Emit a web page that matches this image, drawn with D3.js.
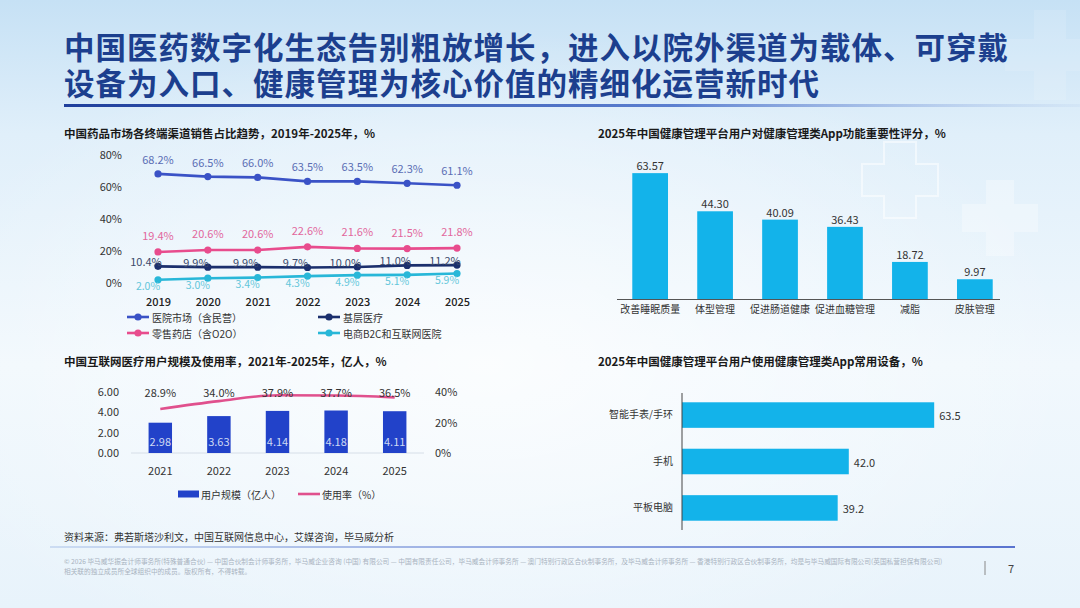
<!DOCTYPE html>
<html><head><meta charset="utf-8">
<script src="https://cdn.jsdelivr.net/npm/d3@7"></script>
<style>
html,body{margin:0;padding:0;background:#e6f2fb;}
svg{display:block;font-family:"Noto Sans CJK SC","Noto Sans",sans-serif;}
</style></head>
<body>
<svg id="c" width="1080" height="608"></svg>
<script>
// ---------- DATA ----------
const titleLines = ["中国医药数字化生态告别粗放增长，进入以院外渠道为载体、可穿戴", "设备为入口、健康管理为核心价值的精细化运营新时代"];

const c1Title = "中国药品市场各终端渠道销售占比趋势，2019年-2025年，%";
const c1Years = ["2019","2020","2021","2022","2023","2024","2025"];
const c1Hospital = [68.2,66.5,66.0,63.5,63.5,62.3,61.1];
const c1Retail = [19.4,20.6,20.6,22.6,21.6,21.5,21.8];
const c1Primary = [10.4,9.9,9.9,9.7,10.0,11.0,11.2];
const c1Ecom = [2.0,3.0,3.4,4.3,4.9,5.1,5.9];
const c1Ticks = [0,20,40,60,80];
const c1Names = ["医院市场（含民营）","基层医疗","零售药店（含O2O）","电商B2C和互联网医院"];

const c2Title = "中国互联网医疗用户规模及使用率，2021年-2025年，亿人，%";
const c2Years = ["2021","2022","2023","2024","2025"];
const c2Users = [2.98,3.63,4.14,4.18,4.11];
const c2Rate = [28.9,34.0,37.9,37.7,36.5];
const c2LeftTicks = [0,2,4,6];
const c2RightTicks = [0,20,40];
const c2Names = ["用户规模（亿人）","使用率（%）"];

const c3Title = "2025年中国健康管理平台用户对健康管理类App功能重要性评分，%";
const c3Cats = ["改善睡眠质量","体型管理","促进肠道健康","促进血糖管理","减脂","皮肤管理"];
const c3Vals = [63.57,44.30,40.09,36.43,18.72,9.97];

const c4Title = "2025年中国健康管理平台用户使用健康管理类App常用设备，%";
const c4Cats = ["智能手表/手环","手机","平板电脑"];
const c4Vals = [63.5,42.0,39.2];

const sourceText = "资料来源：弗若斯塔沙利文，中国互联网信息中心，艾媒咨询，毕马威分析";
const footer1 = "© 2026 毕马威华振会计师事务所(特殊普通合伙) — 中国合伙制会计师事务所，毕马威企业咨询 (中国) 有限公司 — 中国有限责任公司，毕马威会计师事务所 — 澳门特别行政区合伙制事务所，及毕马威会计师事务所 — 香港特别行政区合伙制事务所，均是与毕马威国际有限公司(英国私营担保有限公司)";
const footer2 = "相关联的独立成员所全球组织中的成员。版权所有，不得转载。";
const pageNum = "7";

// ---------- SETUP ----------
const svg = d3.select("#c");
const defs = svg.append("defs");
const bg = defs.append("linearGradient").attr("id","bg").attr("x1",0).attr("y1",0).attr("x2",0).attr("y2",1);
bg.append("stop").attr("offset","0%").attr("stop-color","#c6e1f5");
bg.append("stop").attr("offset","22%").attr("stop-color","#e0effa");
bg.append("stop").attr("offset","60%").attr("stop-color","#f1f8fd");
bg.append("stop").attr("offset","100%").attr("stop-color","#e8f3fb");
const rg = defs.append("radialGradient").attr("id","glow").attr("cx","45%").attr("cy","60%").attr("r","55%");
rg.append("stop").attr("offset","0%").attr("stop-color","#ffffff").attr("stop-opacity",0.7);
rg.append("stop").attr("offset","100%").attr("stop-color","#ffffff").attr("stop-opacity",0);
const ul = defs.append("linearGradient").attr("id","ul").attr("x1",0).attr("x2",1);
ul.append("stop").attr("offset","0%").attr("stop-color","#1f3f9c");
ul.append("stop").attr("offset","60%").attr("stop-color","#5b7fd0");
ul.append("stop").attr("offset","100%").attr("stop-color","#c8dcf2").attr("stop-opacity",0.4);
const fl = defs.append("linearGradient").attr("id","fl").attr("x1",0).attr("x2",1);
fl.append("stop").attr("offset","0%").attr("stop-color","#c4d6f0");
fl.append("stop").attr("offset","100%").attr("stop-color","#3553c4");

svg.append("rect").attr("width",1080).attr("height",608).attr("fill","url(#bg)");
svg.append("rect").attr("width",1080).attr("height",608).attr("fill","url(#glow)");

// decorative crosses
function crossPath(cx, cy, a, b){
  return `M${cx-a},${cy-b}H${cx+a}V${cy-a}H${cx+b}V${cy+a}H${cx+a}V${cy+b}H${cx-a}V${cy+a}H${cx-b}V${cy-a}H${cx-a}Z`;
}
svg.append("path").attr("d",crossPath(900,180,16,38)).attr("fill","none").attr("stroke","#ffffff").attr("stroke-opacity",0.5).attr("stroke-width",2);
svg.append("path").attr("d",crossPath(1000,218,14,38)).attr("fill","#ffffff").attr("fill-opacity",0.3);
svg.append("path").attr("d",crossPath(1050,55,16,45)).attr("fill","#ffffff").attr("fill-opacity",0.12);

// ---------- TITLE ----------
const tt = svg.append("text").attr("x",64).attr("y",59)
  .attr("font-size",30.5).attr("font-weight",700).attr("fill","#1c3f8e").attr("letter-spacing",1);
tt.selectAll("tspan").data(titleLines).join("tspan")
  .attr("x",64).attr("dy",(d,i)=>i===0?0:36).text(d=>d);
svg.append("rect").attr("x",64).attr("y",104).attr("width",1016).attr("height",3).attr("fill","url(#ul)");

const txt = (x,y,s,opts={}) => svg.append("text").attr("x",x).attr("y",y)
  .attr("font-size",opts.size||11).attr("font-weight",opts.weight||400)
  .attr("fill",opts.fill||"#333").attr("text-anchor",opts.anchor||"start")
  .attr("dominant-baseline","central").text(s);

// ---------- CHART 1 ----------
txt(64,133,c1Title,{size:11.5,weight:700,fill:"#1a1a1a"});
const x1 = d3.scalePoint().domain(c1Years).range([158,457]);
const y1 = d3.scaleLinear().domain([0,80]).range([283,155]);
const g1 = svg.append("g");
g1.append("g").attr("transform","translate(122,0)")
  .call(d3.axisLeft(y1).tickValues(c1Ticks).tickFormat(d=>d+"%").tickSize(0).tickPadding(0))
  .call(g=>g.select(".domain").remove())
  .call(g=>g.selectAll("text").attr("font-size",11).attr("fill","#333").attr("font-family","Noto Sans CJK SC"));
g1.append("g").attr("transform","translate(0,302)")
  .call(d3.axisBottom(x1).tickSize(0).tickPadding(0))
  .call(g=>g.select(".domain").remove())
  .call(g=>g.selectAll("text").attr("font-size",11).attr("fill","#222").attr("font-weight",500).attr("font-family","Noto Sans CJK SC").attr("dy","0.35em"));

const series1 = [
  {name:c1Names[0], vals:c1Hospital, color:"#3a52c6", lab:"#5a6db4", dx:0, dy:-15},
  {name:c1Names[1], vals:c1Primary, color:"#1b2f6d", lab:"#3b4a6b", dx:-12, dy:-5},
  {name:c1Names[2], vals:c1Retail, color:"#e84c8d", lab:"#e2679c", dx:0, dy:-17},
  {name:c1Names[3], vals:c1Ecom, color:"#28b7d8", lab:"#63c6da", dx:-10, dy:6}
];
const line1 = d3.line().x((d,i)=>x1(c1Years[i])).y(d=>y1(d));
[3,1,2,0].forEach(k=>{
  const s = series1[k];
  g1.append("path").attr("d",line1(s.vals)).attr("fill","none").attr("stroke",s.color).attr("stroke-width",2.6);
  g1.selectAll(null).data(s.vals).join("circle")
    .attr("cx",(d,i)=>x1(c1Years[i])).attr("cy",d=>y1(d)).attr("r",3.6).attr("fill",s.color);
  g1.selectAll(null).data(s.vals).join("text")
    .attr("x",(d,i)=>x1(c1Years[i])+s.dx).attr("y",d=>y1(d)+s.dy)
    .attr("text-anchor","middle").attr("dominant-baseline","central")
    .attr("font-size",k===3?10.5:11).attr("fill",s.lab).text(d=>d.toFixed(1)+"%");
});
const leg1Pos = [[127,317],[318,317],[127,333],[318,333]];
series1.forEach((s,k)=>{
  const [lx,ly] = leg1Pos[k];
  g1.append("line").attr("x1",lx).attr("x2",lx+22).attr("y1",ly).attr("y2",ly).attr("stroke",s.color).attr("stroke-width",2.6);
  g1.append("circle").attr("cx",lx+11).attr("cy",ly).attr("r",3.6).attr("fill",s.color);
  txt(lx+25,ly,s.name,{size:10,fill:"#333"});
});

// ---------- CHART 2 ----------
txt(64,361,c2Title,{size:11.5,weight:700,fill:"#1a1a1a"});
const x2 = d3.scaleBand().domain(c2Years).range([131,424]).paddingInner(0.6).paddingOuter(0.3);
const y2L = d3.scaleLinear().domain([0,6]).range([453,392]);
const y2R = d3.scaleLinear().domain([0,40]).range([453,392]);
const g2 = svg.append("g");
g2.append("line").attr("x1",x2.range()[0]).attr("x2",x2.range()[1]).attr("y1",y2L(0)).attr("y2",y2L(0)).attr("stroke","#d6dee8").attr("stroke-width",1);
g2.append("g").attr("transform","translate(119,0)")
  .call(d3.axisLeft(y2L).tickValues(c2LeftTicks).tickFormat(d3.format(".2f")).tickSize(0).tickPadding(0))
  .call(g=>g.select(".domain").remove())
  .call(g=>g.selectAll("text").attr("font-size",11).attr("fill","#333").attr("font-family","Noto Sans CJK SC"));
g2.append("g").attr("transform","translate(435,0)")
  .call(d3.axisRight(y2R).tickValues(c2RightTicks).tickFormat(d=>d+"%").tickSize(0).tickPadding(0))
  .call(g=>g.select(".domain").remove())
  .call(g=>g.selectAll("text").attr("font-size",11).attr("fill","#333").attr("font-family","Noto Sans CJK SC"));
g2.append("g").attr("transform","translate(0,471)")
  .call(d3.axisBottom(x2).tickSize(0).tickPadding(0))
  .call(g=>g.select(".domain").remove())
  .call(g=>g.selectAll("text").attr("font-size",11).attr("fill","#333").attr("font-family","Noto Sans CJK SC").attr("dy","0.35em"));
g2.selectAll("rect.bar").data(c2Users).join("rect").attr("class","bar")
  .attr("x",(d,i)=>x2(c2Years[i])).attr("width",x2.bandwidth())
  .attr("y",d=>y2L(d)).attr("height",d=>y2L(0)-y2L(d)).attr("fill","#2242c9");
g2.selectAll("text.bl").data(c2Users).join("text").attr("class","bl")
  .attr("x",(d,i)=>x2(c2Years[i])+x2.bandwidth()/2).attr("y",y2L(1.2))
  .attr("text-anchor","middle").attr("dominant-baseline","central")
  .attr("font-size",11).attr("fill","#cfd9f3").text(d=>d.toFixed(2));
const line2 = d3.line().x((d,i)=>x2(c2Years[i])+x2.bandwidth()/2).y(d=>y2R(d)).curve(d3.curveMonotoneX);
g2.append("path").attr("d",line2(c2Rate)).attr("fill","none").attr("stroke","#e0508d").attr("stroke-width",2.6);
g2.selectAll("text.rl").data(c2Rate).join("text").attr("class","rl")
  .attr("x",(d,i)=>x2(c2Years[i])+x2.bandwidth()/2).attr("y",y2R(40))
  .attr("text-anchor","middle").attr("dominant-baseline","central")
  .attr("font-size",11).attr("fill","#333").text(d=>d.toFixed(1)+"%");
g2.append("rect").attr("x",178).attr("y",490.5).attr("width",21).attr("height",7).attr("fill","#2242c9");
txt(201,494,c2Names[0],{size:10});
g2.append("line").attr("x1",298).attr("x2",320).attr("y1",494).attr("y2",494).attr("stroke","#e0508d").attr("stroke-width",2.6);
txt(322,494,c2Names[1],{size:10});

txt(64,536,sourceText,{size:10,fill:"#333"});

// ---------- CHART 3 ----------
txt(598,133,c3Title,{size:11.5,weight:700,fill:"#1a1a1a"});
const x3 = d3.scaleBand().domain(c3Cats).range([618,1007]).paddingInner(0.45).paddingOuter(0.22);
const y3 = d3.scaleLinear().domain([0,70]).range([299,160.4]);
const g3 = svg.append("g");
g3.selectAll("rect").data(c3Vals).join("rect")
  .attr("x",(d,i)=>x3(c3Cats[i])).attr("width",x3.bandwidth())
  .attr("y",d=>y3(d)).attr("height",d=>y3(0)-y3(d)).attr("fill","#13b3ea");
g3.append("line").attr("x1",617).attr("x2",1000).attr("y1",y3(0)+0.5).attr("y2",y3(0)+0.5).attr("stroke","#555").attr("stroke-width",1);
g3.selectAll("text.v").data(c3Vals).join("text").attr("class","v")
  .attr("x",(d,i)=>x3(c3Cats[i])+x3.bandwidth()/2).attr("y",d=>y3(d)-8)
  .attr("text-anchor","middle").attr("dominant-baseline","central")
  .attr("font-size",11).attr("fill","#333").text(d=>d.toFixed(2));
g3.append("g").attr("transform","translate(0,309)")
  .call(d3.axisBottom(x3).tickSize(0).tickPadding(0))
  .call(g=>g.select(".domain").remove())
  .call(g=>g.selectAll("text").attr("font-size",10).attr("fill","#333").attr("font-family","Noto Sans CJK SC").attr("dy","0.35em"));

// ---------- CHART 4 ----------
txt(598,361,c4Title,{size:11.5,weight:700,fill:"#1a1a1a"});
const y4 = d3.scaleBand().domain(c4Cats).range([393,530]).paddingInner(0.45).paddingOuter(0.2);
const x4 = d3.scaleLinear().domain([0,70]).range([682,960]);
const g4 = svg.append("g");
g4.selectAll("rect").data(c4Vals).join("rect")
  .attr("x",x4(0)).attr("y",(d,i)=>y4(c4Cats[i])).attr("height",y4.bandwidth())
  .attr("width",d=>x4(d)-x4(0)).attr("fill","#13b3ea");
g4.append("line").attr("x1",x4(0)).attr("x2",x4(0)).attr("y1",393).attr("y2",530).attr("stroke","#444").attr("stroke-width",1);
g4.selectAll("text.v").data(c4Vals).join("text").attr("class","v")
  .attr("x",d=>x4(d)+5).attr("y",(d,i)=>y4(c4Cats[i])+y4.bandwidth()/2)
  .attr("dominant-baseline","central").attr("font-size",11).attr("fill","#333").text(d=>d.toFixed(1));
g4.append("g").attr("transform","translate(673,0)")
  .call(d3.axisLeft(y4).tickSize(0).tickPadding(0))
  .call(g=>g.select(".domain").remove())
  .call(g=>g.selectAll("text").attr("font-size",10).attr("fill","#333").attr("font-family","Noto Sans CJK SC"));

// ---------- FOOTER ----------
svg.append("rect").attr("x",50).attr("y",546).attr("width",965).attr("height",2).attr("fill","url(#fl)").attr("opacity",0.8);
txt(64,561,footer1,{size:6.7,fill:"#a9b3bf"});
txt(64,571,footer2,{size:6.7,fill:"#a9b3bf"});
svg.append("line").attr("x1",985).attr("x2",985).attr("y1",561).attr("y2",575).attr("stroke","#888").attr("stroke-width",1);
txt(1011,568,pageNum,{size:11,fill:"#444",anchor:"middle"});
</script>
</body></html>
